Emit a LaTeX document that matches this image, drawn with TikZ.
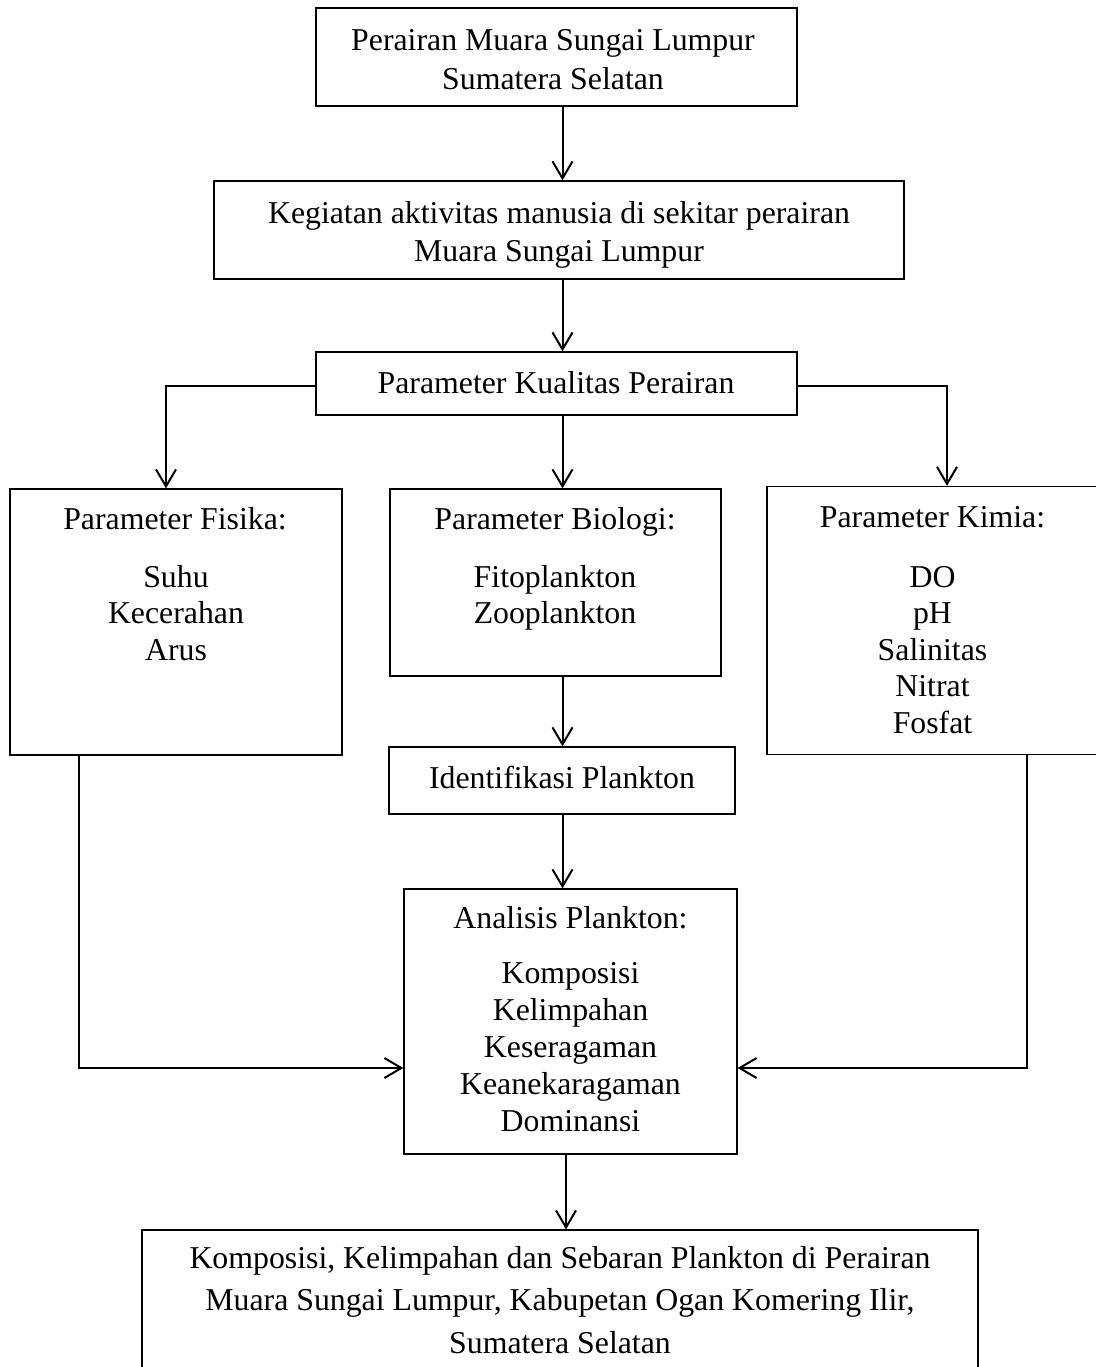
\documentclass[tikz,border=0pt]{standalone}
\usepackage{fontspec}
\setmainfont{Liberation Serif}
\usetikzlibrary{arrows.meta}
\newcommand\mlines[2]{{\fontsize{31.8}{#1}\selectfont\begin{tabular}[t]{@{}c@{}}#2\end{tabular}}}
\tikzset{
  box/.style={draw, line width=1.3pt, rectangle, inner sep=0pt},
  txt/.style={anchor=base, inner sep=0pt, font=\fontsize{31.8}{36.5}\selectfont},
  arr/.style={line width=2pt, -{Straight Barb[length=17pt,width=20pt,line width=2pt]}},
  conn/.style={line width=2pt}
}
\begin{document}
\begin{tikzpicture}[x=1pt,y=-1pt]
\useasboundingbox (0,0) rectangle (1095,1367);
\fill[white] (0,0) rectangle (1095,1367);
% boxes
\node[box, minimum width=481pt, minimum height=98pt] (b1) at (556.5,57) {};
\node[box, minimum width=690pt, minimum height=98pt] (b2) at (559,230) {};
\node[box, minimum width=481pt, minimum height=63pt] (b3) at (556.5,383.5) {};
\node[box, minimum width=332pt, minimum height=266pt] (fis) at (176,622) {};
\node[box, minimum width=331pt, minimum height=187pt] (bio) at (555.5,582.5) {};
\node[box, minimum width=331pt, minimum height=268pt] (kim) at (932.5,620.5) {};
\node[box, minimum width=346pt, minimum height=67pt] (idf) at (562,780.5) {};
\node[box, minimum width=333pt, minimum height=265pt] (ana) at (570.5,1021.5) {};
\node[box, minimum width=836pt, minimum height=170pt] (fin) at (560,1315) {};
% texts
\node[txt] (t1) at (553,51) {\mlines{38.5pt}{Perairan Muara Sungai Lumpur\\Sumatera Selatan}};
\node[txt] (t2) at (559,223) {\mlines{38pt}{Kegiatan aktivitas manusia di sekitar perairan\\Muara Sungai Lumpur}};
\node[txt] (t3) at (556,393) {Parameter Kualitas Perairan};
\node[txt] (tf) at (175,529) {Parameter Fisika:};
\node[txt] (tfi) at (176,587) {\mlines{36.5pt}{Suhu\\Kecerahan\\Arus}};
\node[txt] (tb) at (555,529) {Parameter Biologi:};
\node[txt] (tbi) at (555,587) {\mlines{36.5pt}{Fitoplankton\\Zooplankton}};
\node[txt] (tk) at (932.5,527) {Parameter Kimia:};
\node[txt] (tki) at (932.5,587) {\mlines{36.6pt}{DO\\pH\\Salinitas\\Nitrat\\Fosfat}};
\node[txt] (ti) at (562,788) {Identifikasi Plankton};
\node[txt] (ta) at (570.5,928) {Analisis Plankton:};
\node[txt] (tai) at (570.5,983) {\mlines{37pt}{Komposisi\\Kelimpahan\\Keseragaman\\Keanekaragaman\\Dominansi}};
\node[txt] (tz) at (560,1268) {\mlines{42.5pt}{Komposisi, Kelimpahan dan Sebaran Plankton di Perairan\\Muara Sungai Lumpur, Kabupetan Ogan Komering Ilir,\\Sumatera Selatan}};
% connectors
\coordinate (cx) at (562.5,0);
\coordinate (cy) at (566,0);
\coordinate (lx) at (79,0);
\coordinate (rx) at (1027,0);
\coordinate (hy) at (0,1068);
\coordinate (ly) at (0,386);
\draw[arr] (b1.south -| cx) -- (b2.north -| cx);
\draw[arr] (b2.south -| cx) -- (b3.north -| cx);
\draw[arr] (b3.south -| cx) -- (bio.north -| cx);
\draw[arr] (bio.south -| cx) -- (idf.north -| cx);
\draw[arr] (idf.south -| cx) -- (ana.north -| cx);
\draw[arr] (ana.south -| cy) -- (fin.north -| cy);
\draw[arr] (b3.west |- ly) -| ([xshift=-10pt]fis.north);
\draw[arr] (b3.east |- ly) -| ([xshift=14.5pt]kim.north);
\draw[arr] (fis.south -| lx) |- (ana.west |- hy);
\draw[arr] (kim.south -| rx) |- (ana.east |- hy);
\end{tikzpicture}
\end{document}
